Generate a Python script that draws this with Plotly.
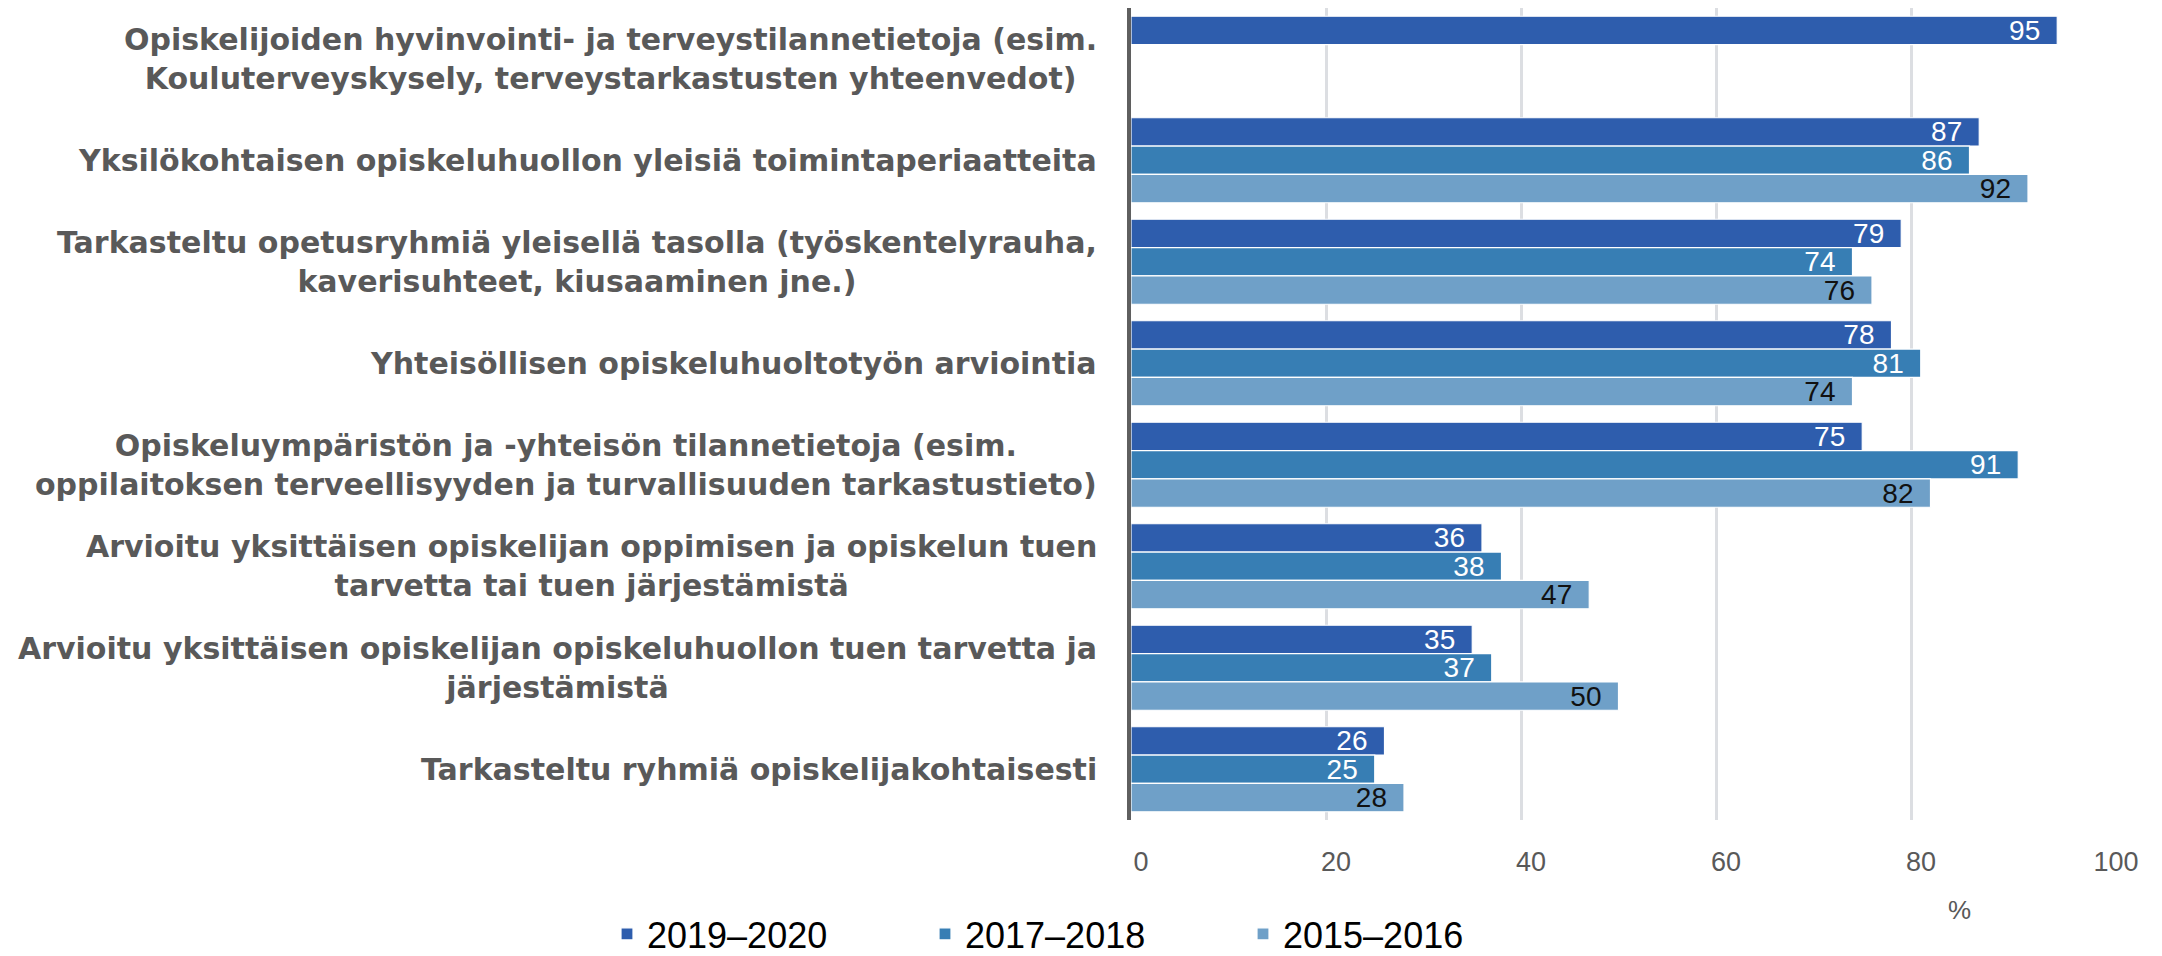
import plotly.graph_objects as go

categories = [
    "Opiskelijoiden hyvinvointi- ja terveystilannetietoja (esim.<br>Kouluterveyskysely, terveystarkastusten yhteenvedot)",
    "Yksilökohtaisen opiskeluhuollon yleisiä toimintaperiaatteita",
    "Tarkasteltu opetusryhmiä yleisellä tasolla (työskentelyrauha,<br>kaverisuhteet, kiusaaminen jne.)",
    "Yhteisöllisen opiskeluhuoltotyön arviointia",
    "Opiskeluympäristön ja -yhteisön tilannetietoja (esim.<br>oppilaitoksen terveellisyyden ja turvallisuuden tarkastustieto)",
    "Arvioitu yksittäisen opiskelijan oppimisen ja opiskelun tuen<br>tarvetta tai tuen järjestämistä",
    "Arvioitu yksittäisen opiskelijan opiskeluhuollon tuen tarvetta ja<br>järjestämistä",
    "Tarkasteltu ryhmiä opiskelijakohtaisesti",
]
series_names = ["2019–2020", "2017–2018", "2015–2016"]
v_2019_2020 = [95, 87, 79, 78, 75, 36, 35, 26]
v_2017_2018 = [None, 86, 74, 81, 91, 38, 37, 25]
v_2015_2016 = [None, 92, 76, 74, 82, 47, 50, 28]
x_ticks = [0, 20, 40, 60, 80, 100]
x_title = "%"

colors = ["#2E5DAD", "#377EB4", "#6FA0C8"]
text_colors = ["#FFFFFF", "#FFFFFF", "#111111"]
FONT = "Liberation Sans, Arial, sans-serif"
LABEL_FONT = "DejaVu Sans, Liberation Sans, sans-serif"

W, H = 2162, 956
L, R, T, B = 1131, 56, 8, 136
PW, PH = W - L - R, H - T - B

fig = go.Figure()
for name, vals, col, tcol in zip(series_names, [v_2019_2020, v_2017_2018, v_2015_2016], colors, text_colors):
    fig.add_trace(go.Bar(
        y=categories, x=vals, name=name, orientation="h",
        marker=dict(color=col, line=dict(color="#FFFFFF", width=1.2)),
        text=[(f"{v}\u2002" if v is not None else "") for v in vals],
        textposition="inside", insidetextanchor="end", constraintext="none",
        textfont=dict(family=FONT, size=28, color=tcol),
        hoverinfo="x+name",
    ))

for c in categories:
    fig.add_annotation(
        x=0, xref="paper", y=c, yref="y", xanchor="right", yanchor="middle",
        xshift=-32, text=c, showarrow=False, align="center",
        font=dict(family=LABEL_FONT, size=30, color="#595959", weight="bold"),
    )

fig.add_annotation(
    x=(1959 - L) / PW, y=(H - B - 910) / PH, xref="paper", yref="paper",
    xanchor="center", yanchor="middle",
    text=x_title, showarrow=False, font=dict(family=FONT, size=26, color="#595959"),
)

fig.update_layout(
    width=W, height=H,
    margin=dict(l=L, r=R, t=T, b=B, autoexpand=False),
    paper_bgcolor="white", plot_bgcolor="white",
    barmode="group", bargap=0.163, bargroupgap=0,
    showlegend=True,
    legend=dict(
        orientation="h", xref="container", yref="container",
        x=607 / W, xanchor="left", y=1 - 934 / H, yanchor="middle",
        font=dict(family=FONT, size=36, color="#000000"),
        entrywidth=273, traceorder="normal", bgcolor="rgba(0,0,0,0)",
    ),
    font=dict(family=FONT),
)
fig.update_xaxes(
    range=[0, 100], tickvals=x_ticks, showgrid=True, gridcolor="#DCDEE2", gridwidth=3,
    zeroline=False, showline=False, ticks="outside", ticklen=18, tickcolor="rgba(0,0,0,0)",
    tickfont=dict(family=FONT, size=27, color="#595959"), ticklabelshift=10,
)
fig.update_yaxes(
    autorange="reversed", showticklabels=False, showgrid=False, zeroline=False,
    showline=True, linecolor="#5F5F5F", linewidth=4, ticks="",
)

fig.write_html(
    "out.html",
    config={"displayModeBar": False},
    post_script="document.body.style.margin='0';document.body.style.overflow='hidden';",
)
